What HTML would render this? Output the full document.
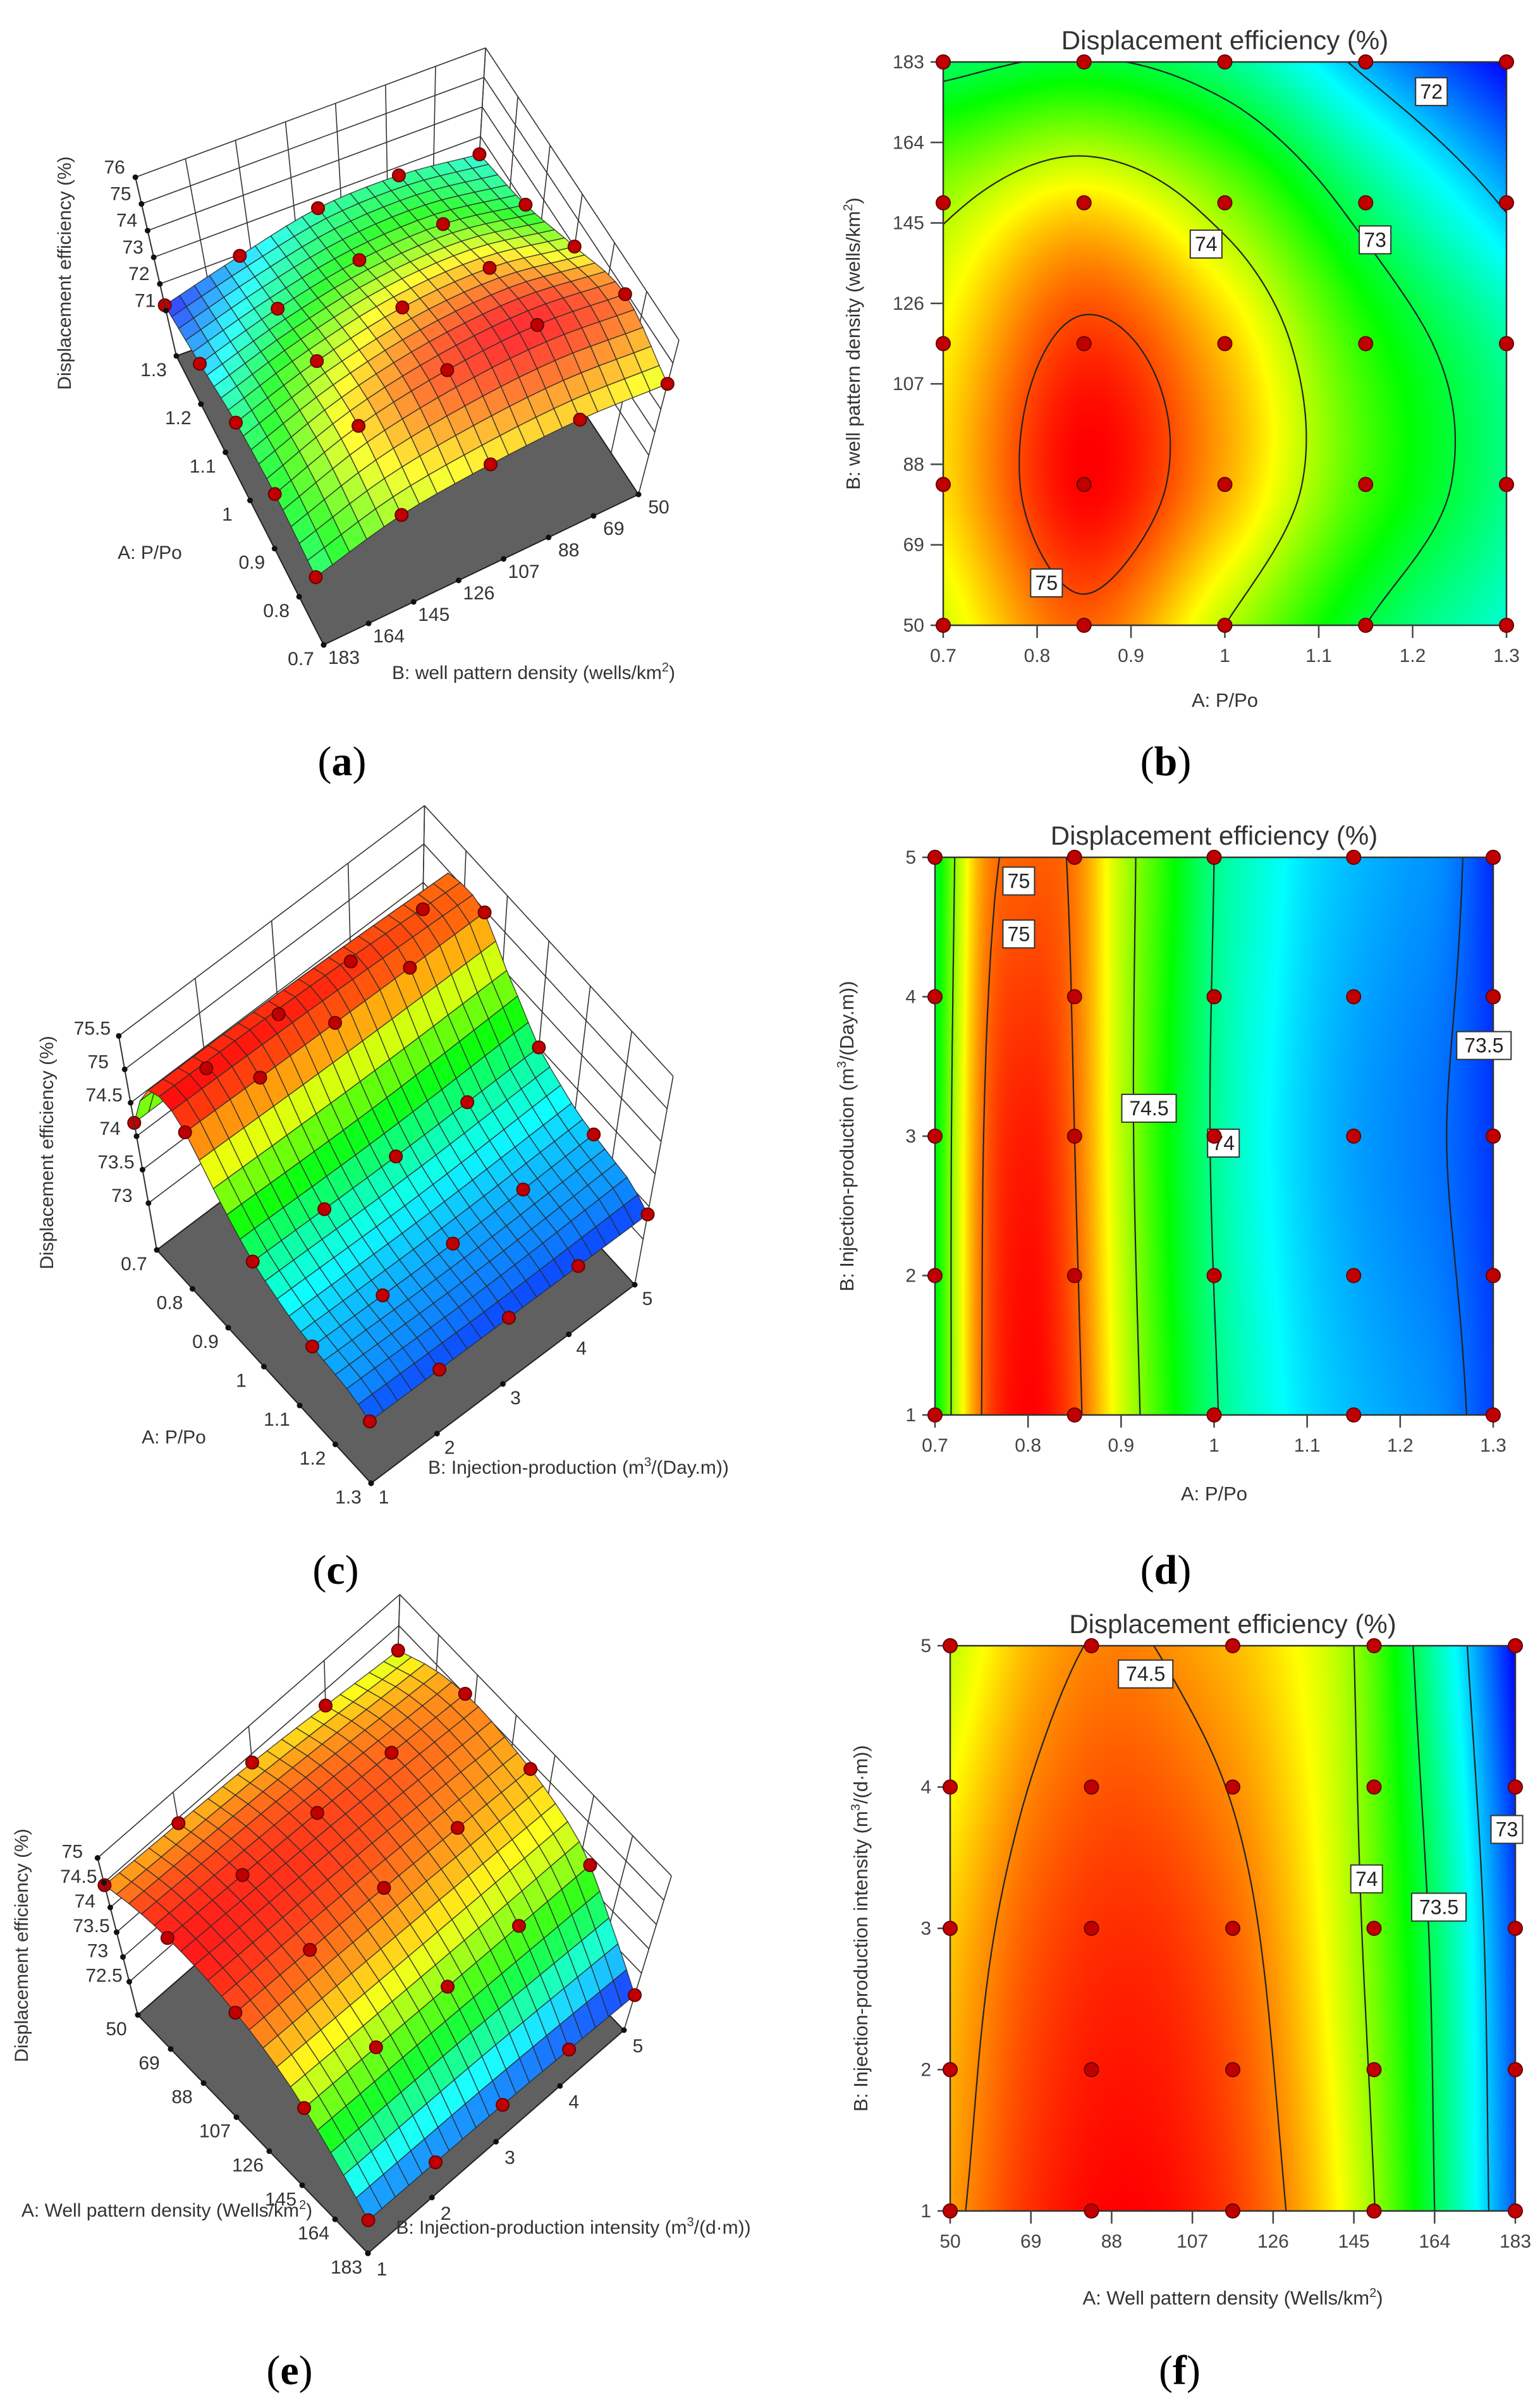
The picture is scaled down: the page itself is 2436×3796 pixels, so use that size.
<!DOCTYPE html>
<html><head><meta charset="utf-8">
<style>
body{margin:0;width:2436px;height:3796px;background:#fff;position:relative;overflow:hidden;font-family:"Liberation Sans",sans-serif}
canvas{position:absolute}
svg{position:absolute;left:0;top:0}
</style></head>
<body>
<canvas id="hb" width="891" height="891" style="left:1492px;top:98px"></canvas>
<canvas id="hd" width="883" height="882" style="left:1479px;top:1356px"></canvas>
<canvas id="hf" width="894" height="894" style="left:1503px;top:2603px"></canvas>
<svg id="s" width="2436" height="3796"></svg>
<script>
// ---------- DATA ----------
const bA=[0.7,0.85,1.0,1.15,1.3];
const bB=[50,83.25,116.5,149.75,183];
const bZ=[[74.1,74.4,74.3,73.9,72.85],[74.9,75.3,75.1,74.4,73.05],[74.0,74.6,74.5,73.8,72.7],[73.0,73.5,73.4,72.8,71.9],[72.4,72.7,72.6,71.95,71.2]];
const bCRange=[71.2,75.3];
const bLevels=[72,73,74,75];
const bLabels=[[1.22,176,"72"],[1.16,141,"73"],[0.98,140,"74"],[0.81,60,"75"]];
const bXTicks=[0.7,0.8,0.9,1,1.1,1.2,1.3];
const bYTicks=[50,69,88,107,126,145,164,183];
const dA=[0.7,0.75,0.8,0.85,0.9,0.95,1.0,1.05,1.1,1.15,1.2,1.25,1.3];
const dB=[1,3,5];
const dZ=[[74.2,74.2,74.15],[75.0,74.98,74.9],[75.2,75.15,75.02],[75.05,75.0,74.97],[74.65,74.6,74.6],[74.3,74.25,74.3],[74.02,73.98,74.0],[73.85,73.8,73.85],[73.72,73.68,73.72],[73.65,73.6,73.65],[73.6,73.55,73.6],[73.55,73.5,73.55],[73.42,73.4,73.38]];
const dCRange=[73.3,75.2];
const dLevels=[73.5,74,74.5,75];
const dLabels=[[0.79,4.83,"75"],[0.79,4.45,"75"],[0.93,3.2,"74.5"],[1.01,2.95,"74"],[1.29,3.65,"73.5"]];
const dXTicks=[0.7,0.8,0.9,1,1.1,1.2,1.3];
const dYTicks=[1,2,3,4,5];
const dPtsA=[0.7,0.85,1.0,1.15,1.3];
const dPtsB=[1,2,3,4,5];
const fA=[50,69,88,107,126,145,164,183];
const fB=[1,3,5];
const fZ=[[74.45,74.35,74.1],[74.7,74.6,74.4],[74.8,74.7,74.52],[74.75,74.65,74.45],[74.55,74.45,74.3],[74.15,74.05,74.0],[73.5,73.45,73.3],[72.75,72.7,72.55]];
const fCRange=[72.55,74.8];
const fLevels=[73,73.5,74,74.5];
const fLabels=[[96,4.8,"74.5"],[148,3.35,"74"],[165,3.15,"73.5"],[181,3.7,"73"]];
const fXTicks=[50,69,88,107,126,145,164,183];
const fYTicks=[1,2,3,4,5];
const fPtsA=[50,83.25,116.5,149.75,183];
const fPtsB=[1,2,3,4,5];

// ---------- HELPERS ----------
const NS="http://www.w3.org/2000/svg";
const svg=document.getElementById('s');
function mk(tag,at,parent){const e=document.createElementNS(NS,tag);for(const k in at)e.setAttribute(k,at[k]);(parent||svg).appendChild(e);return e;}
function cr(arr,t){const n=arr.length;t=Math.max(0,Math.min(n-1,t));const i=Math.min(Math.floor(t),n-2);const f=t-i;const p1=arr[i],p2=arr[i+1];const p0=i>0?arr[i-1]:2*p1-p2;const p3=i+2<n?arr[i+2]:2*p2-p1;return 0.5*(2*p1+(-p0+p2)*f+(2*p0-5*p1+4*p2-p3)*f*f+(-p0+3*p1-3*p2+p3)*f*f*f);}
function interp(Ag,Bg,Z){return (a,b)=>{const ta=(a-Ag[0])/(Ag[Ag.length-1]-Ag[0])*(Ag.length-1);const tb=(b-Bg[0])/(Bg[Bg.length-1]-Bg[0])*(Bg.length-1);const col=Z.map(r=>cr(r,tb));return cr(col,ta);};}
const stops=[[0,0,0,255],[0.25,0,255,255],[0.5,0,255,0],[0.75,255,255,0],[1,255,0,0]];
function cmap(t){t=Math.max(0,Math.min(1,t));for(let i=0;i<4;i++){const a=stops[i],b=stops[i+1];if(t<=b[0]){const f=(t-a[0])/(b[0]-a[0]);return [a[1]+(b[1]-a[1])*f,a[2]+(b[2]-a[2])*f,a[3]+(b[3]-a[3])*f];}}return [255,0,0];}
function rgb(c,w){w=w||0;return 'rgb('+c.map(v=>Math.round(v+(255-v)*w)).join(',')+')';}
function fmt(v){return String(v);}

// ---------- CONTOUR PLOT ----------
function contour(cfg){
  const f=interp(cfg.A,cfg.B,cfg.Z);const mn=cfg.cr[0],mx=cfg.cr[1];
  const A0=cfg.A[0],A1=cfg.A[cfg.A.length-1],B0=cfg.B[0],B1=cfg.B[cfg.B.length-1];
  const W=cfg.w,H=cfg.h;
  const sx=a=>cfg.x+(a-A0)/(A1-A0)*W, sy=b=>cfg.y+H-(b-B0)/(B1-B0)*H;
  const cv=document.getElementById(cfg.canvas);const ctx=cv.getContext('2d');const img=ctx.createImageData(W,H);
  for(let py=0;py<H;py++){const b=B1-(py+0.5)/H*(B1-B0);for(let px=0;px<W;px++){const a=A0+(px+0.5)/W*(A1-A0);const c=cmap((f(a,b)-mn)/(mx-mn));const k=(py*W+px)*4;img.data[k]=c[0];img.data[k+1]=c[1];img.data[k+2]=c[2];img.data[k+3]=255;}}
  ctx.putImageData(img,0,0);
  const g=mk('g',{});
  
  
  const N=140;const grid=[];
  for(let i=0;i<=N;i++){grid.push([]);for(let j=0;j<=N;j++)grid[i].push(f(A0+i/N*(A1-A0),B0+j/N*(B1-B0)));}
  cfg.levels.forEach(L=>{
    let d='';
    const P=(i,j)=>[sx(A0+i/N*(A1-A0)),sy(B0+j/N*(B1-B0))];
    for(let i=0;i<N;i++)for(let j=0;j<N;j++){
      const v=[grid[i][j],grid[i+1][j],grid[i+1][j+1],grid[i][j+1]];
      const c=[[i,j],[i+1,j],[i+1,j+1],[i,j+1]];const pts=[];
      for(let e=0;e<4;e++){const v1=v[e],v2=v[(e+1)%4];if((v1<L)!==(v2<L)){const t=(L-v1)/(v2-v1);const p1=P(...c[e]),p2=P(...c[(e+1)%4]);pts.push([p1[0]+(p2[0]-p1[0])*t,p1[1]+(p2[1]-p1[1])*t]);}}
      if(pts.length>=2)d+='M'+pts[0][0].toFixed(1)+' '+pts[0][1].toFixed(1)+'L'+pts[1][0].toFixed(1)+' '+pts[1][1].toFixed(1);
      if(pts.length===4)d+='M'+pts[2][0].toFixed(1)+' '+pts[2][1].toFixed(1)+'L'+pts[3][0].toFixed(1)+' '+pts[3][1].toFixed(1);
    }
    const p=mk('path',{d:d,stroke:'#222',fill:'none','stroke-width':2.2},g);
    
    
  });
  const fr=mk('rect',{x:cfg.x,y:cfg.y,width:W,height:H,fill:'none',stroke:'#333','stroke-width':2.5},g);
  
  
  cfg.xt.forEach(v=>{const X=sx(v);
    const t=mk('line',{x1:X,x2:X,y1:cfg.y+H,y2:cfg.y+H+20,stroke:'#444','stroke-width':2.5},g);
    
    
    const l=mk('text',{x:X,y:cfg.y+H+58,'text-anchor':'middle','font-size':30,fill:'#444'},g);l.textContent=fmt(v);
    
    });
  cfg.yt.forEach(v=>{const Y=sy(v);
    const t=mk('line',{x1:cfg.x-20,x2:cfg.x,y1:Y,y2:Y,stroke:'#444','stroke-width':2.5},g);
    
    
    const l=mk('text',{x:cfg.x-30,y:Y+10,'text-anchor':'end','font-size':30,fill:'#444'},g);l.textContent=fmt(v);
    
    });
  cfg.labels.forEach(lb=>{const X=sx(lb[0]),Y=sy(lb[1]);const w=lb[2].length*18+14;
    const r=mk('rect',{x:X-w/2,y:Y-22,width:w,height:44,fill:'#fff',stroke:'#333','stroke-width':2},g);
    
    
    const t=mk('text',{x:X,y:Y+11,'text-anchor':'middle','font-size':32,fill:'#222'},g);t.textContent=lb[2];
    
    });
  cfg.pa.forEach(a=>cfg.pb.forEach(b=>{
    const c=mk('circle',{cx:sx(a),cy:sy(b),r:11,fill:'#c00000',stroke:'#600','stroke-width':2},g);
    
    }));
  const ti=mk('text',{x:cfg.x+W/2,y:cfg.y-20,'text-anchor':'middle','font-size':42,fill:'#333'},g);ti.textContent='Displacement efficiency (%)';
  
  
  const xt=mk('text',{x:cfg.x+W/2,y:cfg.xTitleY,'text-anchor':'middle','font-size':31,fill:'#333'},g);xt.innerHTML=cfg.xTitle;
  
  
  const yt=mk('text',{x:0,y:0,'text-anchor':'middle','font-size':31,fill:'#333',transform:'translate('+cfg.yTitleX+','+(cfg.y+H/2)+') rotate(-90)'},g);yt.innerHTML=cfg.yTitle;
  
  
}

// ---------- 3D SURFACE ----------
function surf3d(cfg){
  const f=interp(cfg.A,cfg.B,cfg.Z);const mn=cfg.cr[0],mx=cfg.cr[1];
  const A0=cfg.A[0],A1=cfg.A[cfg.A.length-1],B0=cfg.B[0],B1=cfg.B[cfg.B.length-1];
  const C=cfg.corners;
  const floor=(a,b)=>{const u=(a-A0)/(A1-A0),v=(b-B0)/(B1-B0);
    return [C.c00[0]*(1-u)*(1-v)+C.c10[0]*u*(1-v)+C.c01[0]*(1-u)*v+C.c11[0]*u*v,
            C.c00[1]*(1-u)*(1-v)+C.c10[1]*u*(1-v)+C.c01[1]*(1-u)*v+C.c11[1]*u*v];};
  const P=(a,b,z)=>{const p=floor(a,b);const k=cfg.g*(z-cfg.zf);return [p[0]+(p[0]-cfg.V[0])*k,p[1]+(p[1]-cfg.V[1])*k];};
  const g=mk('g',{});
  
  
  const ln=(p,q,w,col,name)=>{const l=mk('line',{x1:p[0],y1:p[1],x2:q[0],y2:q[1],stroke:col||'#333','stroke-width':w||1.6},g);
    
    return l;};
  cfg.zt.concat([cfg.zf]).forEach(z=>{
    ln(P(cfg.wallA,B0,z),P(cfg.wallA,B1,z),1.6,'#333','wall-gridline');
    ln(P(A0,cfg.wallB,z),P(A1,cfg.wallB,z),1.6,'#333','wall-gridline');});
  cfg.bt.forEach(b=>ln(P(cfg.wallA,b,cfg.zf),P(cfg.wallA,b,cfg.ztop),1.6,'#333','wall-gridline'));
  cfg.at.forEach(a=>ln(P(a,cfg.wallB,cfg.zf),P(a,cfg.wallB,cfg.ztop),1.6,'#333','wall-gridline'));
  const fl=[P(A0,B0,cfg.zf),P(A1,B0,cfg.zf),P(A1,B1,cfg.zf),P(A0,B1,cfg.zf)];
  const fp=mk('polygon',{points:fl.map(p=>p.join(',')).join(' '),fill:'#606060',stroke:'#222','stroke-width':2},g);
  
  
  const N=20;const quads=[];
  for(let i=0;i<N;i++)for(let j=0;j<N;j++){
    const a0=A0+i/N*(A1-A0),a1=A0+(i+1)/N*(A1-A0),b0=B0+j/N*(B1-B0),b1=B0+(j+1)/N*(B1-B0);
    const pts=[P(a0,b0,f(a0,b0)),P(a1,b0,f(a1,b0)),P(a1,b1,f(a1,b1)),P(a0,b1,f(a0,b1))];
    const vc=f((a0+a1)/2,(b0+b1)/2);const fc=floor((a0+a1)/2,(b0+b1)/2);
    quads.push({pts,vc,d:fc[1]});}
  quads.sort((p,q)=>p.d-q.d);
  quads.forEach(q=>{const pg=mk('polygon',{points:q.pts.map(p=>p[0].toFixed(1)+','+p[1].toFixed(1)).join(' '),fill:rgb(cmap((q.vc-mn)/(mx-mn)),cfg.light),stroke:'#2a2a2a','stroke-width':1.4,'stroke-opacity':0.85},g);
    
    });
  cfg.pa.forEach(a=>cfg.pb.forEach(b=>{const p=P(a,b,f(a,b));
    const c=mk('circle',{cx:p[0],cy:p[1],r:10,fill:'#c00000',stroke:'#600','stroke-width':2},g);
    
    }));
  ln(P(cfg.zc[0],cfg.zc[1],cfg.zf),P(cfg.zc[0],cfg.zc[1],cfg.ztop),2,'#333','z-axis-line');
  const tk=(p,name)=>{const c=mk('circle',{cx:p[0],cy:p[1],r:4.5,fill:'#111'},g);
    
    };
  const tx=(p,off,s,name)=>{const t=mk('text',{x:p[0]+off[0],y:p[1]+off[1]+10,'text-anchor':'middle','font-size':30,fill:'#333'},g);t.textContent=s;
    
    };
  cfg.at.forEach(a=>{const p=P(a,cfg.aEdgeB,cfg.zf);tk(p,'a-tick');tx(p,cfg.aOff,fmt(a),'a-tick-label');});
  cfg.bt.forEach(b=>{const p=P(cfg.bEdgeA,b,cfg.zf);tk(p,'b-tick');tx(p,cfg.bOff,fmt(b),'b-tick-label');});
  cfg.zt.forEach(z=>{const p=P(cfg.zc[0],cfg.zc[1],z);tk(p,'z-tick');tx(p,cfg.zOff,fmt(z),'z-tick-label');});
  const zt=mk('text',{x:0,y:0,'text-anchor':'middle','font-size':30,fill:'#333',transform:'translate('+cfg.zTitle[0]+','+cfg.zTitle[1]+') rotate(-90)'},g);zt.textContent='Displacement efficiency (%)';
  
  
  const at=mk('text',{x:cfg.aTitle[0],y:cfg.aTitle[1],'text-anchor':'middle','font-size':30,fill:'#333'},g);at.innerHTML=cfg.aTitle[2];
  
  
  const bt=mk('text',{x:cfg.bTitle[0],y:cfg.bTitle[1],'text-anchor':'middle','font-size':30,fill:'#333'},g);bt.innerHTML=cfg.bTitle[2];
  
  
}

// ---------- BUILD ----------
const sup='<tspan dy="-12" font-size="20">2</tspan><tspan dy="12">)</tspan>';
contour({name:'contour-plot-b',canvas:'hb',A:bA,B:bB,Z:bZ,cr:bCRange,x:1492,y:98,w:891,h:891,levels:bLevels,labels:bLabels,xt:bXTicks,yt:bYTicks,pa:bA,pb:bB,
  xTitle:'A: P/Po',xTitleY:1118,yTitleX:1360,yTitle:'B: well pattern density (wells/km'+sup});
contour({name:'contour-plot-d',canvas:'hd',A:dA,B:dB,Z:dZ,cr:dCRange,x:1479,y:1356,w:883,h:882,levels:dLevels,labels:dLabels,xt:dXTicks,yt:dYTicks,pa:dPtsA,pb:dPtsB,
  xTitle:'A: P/Po',xTitleY:2373,yTitleX:1350,yTitle:'B: Injection-production  (m<tspan dy="-12" font-size="20">3</tspan><tspan dy="12">/(Day.m))</tspan>'});
contour({name:'contour-plot-f',canvas:'hf',A:fA,B:fB,Z:fZ,cr:fCRange,x:1503,y:2603,w:894,h:894,levels:fLevels,labels:fLabels,xt:fXTicks,yt:fYTicks,pa:fPtsA,pb:fPtsB,
  xTitle:'A: Well pattern density (Wells/km'+sup,xTitleY:3645,yTitleX:1372,yTitle:'B: Injection-production intensity (m<tspan dy="-12" font-size="20">3</tspan><tspan dy="12">/(d·m))</tspan>'});

surf3d({name:'surface-plot-a',A:bA,B:bB,Z:bZ,cr:bCRange,corners:{c00:[1010,782],c10:[750,389],c01:[512,1020],c11:[279,563]},V:[647,2167],g:0.0263,zf:69.3,ztop:76,
  zt:[71,72,73,74,75,76],at:[0.7,0.8,0.9,1,1.1,1.2,1.3],bt:[50,69,88,107,126,145,164,183],wallA:1.3,wallB:50,zc:[1.3,183],aEdgeB:183,bEdgeA:0.7,
  aOff:[-36,22],bOff:[32,20],zOff:[-33,-16],pa:bA,pb:bB,light:0.2,
  zTitle:[112,432],aTitle:[237,884,'A: P/Po'],bTitle:[844,1074,'B: well pattern density (wells/km'+sup]});
surf3d({name:'surface-plot-c',A:dA,B:dB,Z:dZ,cr:dCRange,corners:{c00:[248,1977],c10:[587,2346],c01:[665,1663],c11:[1004,2032]},V:[624,4093],g:0.05,zf:72.3,ztop:75.5,
  zt:[73,73.5,74,74.5,75,75.5],at:[0.7,0.8,0.9,1,1.1,1.2,1.3],bt:[1,2,3,4,5],wallA:0.7,wallB:5,zc:[0.7,1],aEdgeB:1,bEdgeA:1.3,
  aOff:[-36,22],bOff:[20,22],zOff:[-42,-12],pa:dPtsA,pb:dPtsB,light:0.05,
  zTitle:[84,1823],aTitle:[275,2283,'A: P/Po'],bTitle:[915,2331,'B: Injection-production  (m<tspan dy="-12" font-size="20">3</tspan><tspan dy="12">/(Day.m))</tspan>']});
surf3d({name:'surface-plot-e',A:fA,B:fB,Z:fZ,cr:fCRange,corners:{c00:[218,3187],c10:[582,3564],c01:[623,2834],c11:[987,3211]},V:[571,4564],g:0.0569,zf:71.83,ztop:75,
  zt:[72.5,73,73.5,74,74.5,75],at:[50,69,88,107,126,145,164,183],bt:[1,2,3,4,5],wallA:50,wallB:5,zc:[50,1],aEdgeB:1,bEdgeA:183,
  aOff:[-34,22],bOff:[22,25],zOff:[-40,-10],pa:fPtsA,pb:fPtsB,light:0.1,
  zTitle:[44,3077],aTitle:[264,3506,'A: Well pattern density (Wells/km'+sup],bTitle:[907,3533,'B: Injection-production intensity (m<tspan dy="-12" font-size="20">3</tspan><tspan dy="12">/(d·m))</tspan>']});

[['a',541,1226],['b',1844,1226],['c',531,2505],['d',1844,2505],['e',458,3771],['f',1866,3771]].forEach(p=>{
  const t=mk('text',{x:p[1],y:p[2],'text-anchor':'middle','font-size':66,'font-family':'"Liberation Serif",serif',fill:'#000'});
  t.innerHTML='(<tspan font-weight="bold">'+p[0]+'</tspan>)';
  
  
});
</script>
</body></html>
